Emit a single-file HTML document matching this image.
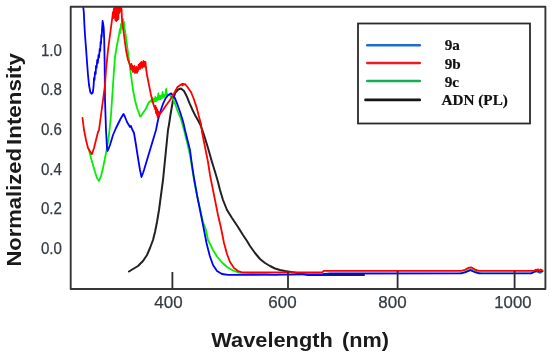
<!DOCTYPE html>
<html><head><meta charset="utf-8">
<style>
html,body{margin:0;padding:0;background:#fff;}
body{width:550px;height:353px;overflow:hidden;}
svg{display:block;filter:blur(0.4px);}
text{font-family:"Liberation Sans",sans-serif;}
.tk text{font-size:16.4px;fill:#333b44;stroke:#333b44;stroke-width:0.25px;}
.ax{font-size:19.4px;font-weight:bold;fill:#1a1a1a;}
.lg text{font-family:"Liberation Serif",serif;font-weight:bold;font-size:15.2px;fill:#111;stroke:#111;stroke-width:0.2px;}
</style></head>
<body>
<svg width="550" height="353" viewBox="0 0 550 353">
<rect x="0" y="0" width="550" height="353" fill="#ffffff"/>
<defs><clipPath id="c"><rect x="71" y="7" width="474" height="282"/></clipPath></defs>
<g clip-path="url(#c)" fill="none" stroke-linejoin="round" stroke-linecap="round">
<polyline points="129,271.5 133,269 138,266 143,261 147,255 150,248 153,240 155,232 157,222 159,210 161,195 163,180 164,170 165,160 166,150 167,140 168,130 169,124.6 170.5,114.7 172,106 173.3,99 175.4,92.5 178.2,89.5 181,88.5 184,91 186.7,96.2 189.6,103.3 192.4,109.7 195.2,115.4 198,120.3 200.5,125 204,135 208,148 212,162 216,175 218,182 220,190 223,200 227,210 232,218 238,227 243,235 247,241 250,246 255,253 260,259 265,263 270,266 275,268.5 280,270 285,271 288,271.5 300,273.5 308,275 364,275" stroke="#222222" stroke-width="2"/>
<polyline points="89,150 91,158 93,165 95,172 97,178 99,181 101,176 103,168 105,158 107,148 109,135 110,125 111,115 112,100 113,85 114,70 115,57 117,45 119,35 120,29 120.4,33 121,24 121.4,29 122,21 122.4,27 123,19 123.4,26 124,22 124.4,29 125,30 127,45 129,60 131,75 133,90 135,100 137,108 139,113 140,116.5 141,116 143,113 145.7,109 148.5,103 151,100.5 152,102 152.6,98 153.2,102 154,99 154.6,101.5 155.3,97 156,101 156.7,98 157.4,100 158.4,93.4 159,99.5 159.8,96 160.5,99 161.3,95.5 162,98 162.6,92 163.2,97.5 164,95 164.7,97 165.4,94 166.2,89 166.8,95.5 167.5,94 168.3,95 170,95.5 172.6,98.4 175.4,104.7 178,112 181,119 184,130 187,142 190,155 194,180 198,200 203,222 206,230 208,240 213,250 217,256.5 222,262.5 227,267 233,270.5 239,272.7 260,273.5 275,274.8 280,274.4" stroke="#00f000" stroke-width="1.8"/>
<polyline points="280,274.4 323,274.2 330,273.5 459.5,273.4 463,272.6 467,270.5 470.5,268.8 474,270 477.5,272 481,273.4 531,273.4 535,272 538,271.5 540,273.5 542,272" stroke="#00f000" stroke-width="1.2"/>
<polyline points="83,5 83.8,12 84.4,25 85,35 86,48 87,62 88,75 89,85 90.3,92 91.5,93.8 92.8,92.5 93.6,86 94,78 94.5,80 95,72 95.7,74 96,66 96.6,68 97.2,60 97.8,63 98.5,55 99,57.5 99.7,49 100.2,51 100.6,42 101,44 101.3,35 101.7,37 102.1,28 102.6,21 103.2,24 103.7,28 104.2,40 104.6,60 105,100 106,130 107,148 107.6,151 108.5,149 110,145 113,135 116,128 119,122 121,118 123.5,114 125,117 127,122 130,127 131,126 132,129 134,133 136,145 138,158 140,170 141.5,177 143,173 144,170 147,160 150,150 153,140 156,130 158,120 160,112.5 162.7,104.7 165.5,98.5 168.3,95 171.2,93.4 174.7,97.7 177.5,104.7 180.4,113 183.2,122 185,130 187.5,140 190,150 192,165 194,178 197,195 200,210 203,225 204,230 206.5,243 209.8,256 213,265 217,271 222,274 228,274.9 290,274.6 323,274.2 330,273.5 461,273.4 465,272.4 470.5,270.1 475,272.2 479,273.4 531,273.4 534,272 536,271.2 539,271.8 542.5,271.3" stroke="#0000ff" stroke-width="1.8"/>
<polyline points="82.5,118 84,130 86,140 88,148 91,153 92,154 94,148 96,140 98,132 99,130 101,115 103,100 105,85 106,70 108,50 110,35 112,20 113,12 113.4,18 113.8,9 114.3,17 114.8,5 115.3,20 115.8,4 116.3,21 116.8,5 117.3,20 117.8,3 118.3,19 118.8,5 119.3,13 119.8,4 120.3,10 120.8,5 121.3,12 121.6,9 122,20 124,35 126,50 128,60 130,65 131,69 131.5,64 132,70 132.5,66 133,72 133.5,67 134,71 134.5,66 135,73 135.5,68 136,72 136.5,67 137,73 137.5,68 138,71 138.5,65 139,69 139.5,64 140,69 140.5,63 141,67 141.5,62 142,68 142.5,63 143,66 143.5,61 144,67 144.5,62 145,66 145.5,62 146,68 147,75 149,85 151,95 153,103 154,106 155,109 155.5,106 156,113 156.5,108 157,115 157.5,110 157.7,117.5 158.5,112 159,115.5 160,114 163,110 166,105.5 170,100 174,93.5 177.5,87 180,85.2 182,84 182.5,85.5 183,83.8 184,84.6 185,84 187.5,87 191,92 193.8,99 196.7,107.6 198.8,116 201,124 202,132 205,147 208,162 210,175 212,185 215,200 218,215 221,228 224,243 227,254 230,262 234,268 238,271 242,272.3 322.5,272.3 323.5,270.9 461,270.9 465,269.8 469,267.6 471.5,267.4 475,269.6 479,270.9 534,270.9 536,269.6 537,271 538,269.3 539.5,271 540.5,269.4 542.5,270.6" stroke="#ff0000" stroke-width="1.8"/>
</g>
<!-- ticks -->
<g stroke="#2c2c2c" stroke-width="1.8">
<line x1="172.4" y1="272" x2="172.4" y2="289"/>
<line x1="288" y1="272" x2="288" y2="289"/>
<line x1="397.6" y1="271" x2="397.6" y2="289"/>
<line x1="514.6" y1="271" x2="514.6" y2="289"/>
</g>
<!-- frame -->
<rect x="70.7" y="6.8" width="474.7" height="282.2" fill="none" stroke="#363636" stroke-width="1.9" stroke-linejoin="round"/>
<!-- y tick labels -->
<g class="tk">
<text x="40.9" y="55.9" textLength="21" lengthAdjust="spacingAndGlyphs">1.0</text>
<text x="40.9" y="95.3" textLength="21" lengthAdjust="spacingAndGlyphs">0.8</text>
<text x="40.9" y="134.9" textLength="21" lengthAdjust="spacingAndGlyphs">0.6</text>
<text x="40.9" y="174.5" textLength="21" lengthAdjust="spacingAndGlyphs">0.4</text>
<text x="40.9" y="214.1" textLength="21" lengthAdjust="spacingAndGlyphs">0.2</text>
<text x="40.9" y="253.7" textLength="21" lengthAdjust="spacingAndGlyphs">0.0</text>
</g>
<!-- x tick labels -->
<g class="tk">
<text x="154.3" y="307.8" textLength="28.3" lengthAdjust="spacingAndGlyphs">400</text>
<text x="268.3" y="307.8" textLength="28.3" lengthAdjust="spacingAndGlyphs">600</text>
<text x="378.3" y="307.8" textLength="28.3" lengthAdjust="spacingAndGlyphs">800</text>
<text x="494.3" y="307.8" textLength="37.2" lengthAdjust="spacingAndGlyphs">1000</text>
</g>
<!-- axis titles -->
<text class="ax" x="211.3" y="346.6" textLength="121.5" lengthAdjust="spacingAndGlyphs">Wavelength</text>
<text class="ax" x="342" y="346.6" textLength="47" lengthAdjust="spacingAndGlyphs">(nm)</text>
<text class="ax" transform="translate(21.1,266.6) rotate(-90)" x="0" y="0" textLength="118.5" lengthAdjust="spacingAndGlyphs">Normalized</text>
<text class="ax" transform="translate(21.1,145) rotate(-90)" x="0" y="0" textLength="92" lengthAdjust="spacingAndGlyphs">Intensity</text>
<!-- legend -->
<rect x="358" y="23.5" width="172" height="100" fill="#ffffff" stroke="#2a2a2a" stroke-width="1.8"/>
<g stroke-width="2.6" stroke-linecap="round">
<line x1="367.3" y1="45.3" x2="419.8" y2="45.3" stroke="#1f6fc8"/>
<line x1="367.3" y1="63" x2="419.8" y2="63" stroke="#ee1c24"/>
<line x1="367.3" y1="81" x2="419.8" y2="81" stroke="#12b050"/>
<line x1="365.5" y1="99.9" x2="419.8" y2="99.9" stroke="#151515"/>
</g>
<g class="lg">
<text x="444.7" y="49.7">9a</text>
<text x="444.7" y="68.8">9b</text>
<text x="444.7" y="87.3">9c</text>
<text x="441.6" y="105.3">ADN (PL)</text>
</g>
</svg>
</body></html>
